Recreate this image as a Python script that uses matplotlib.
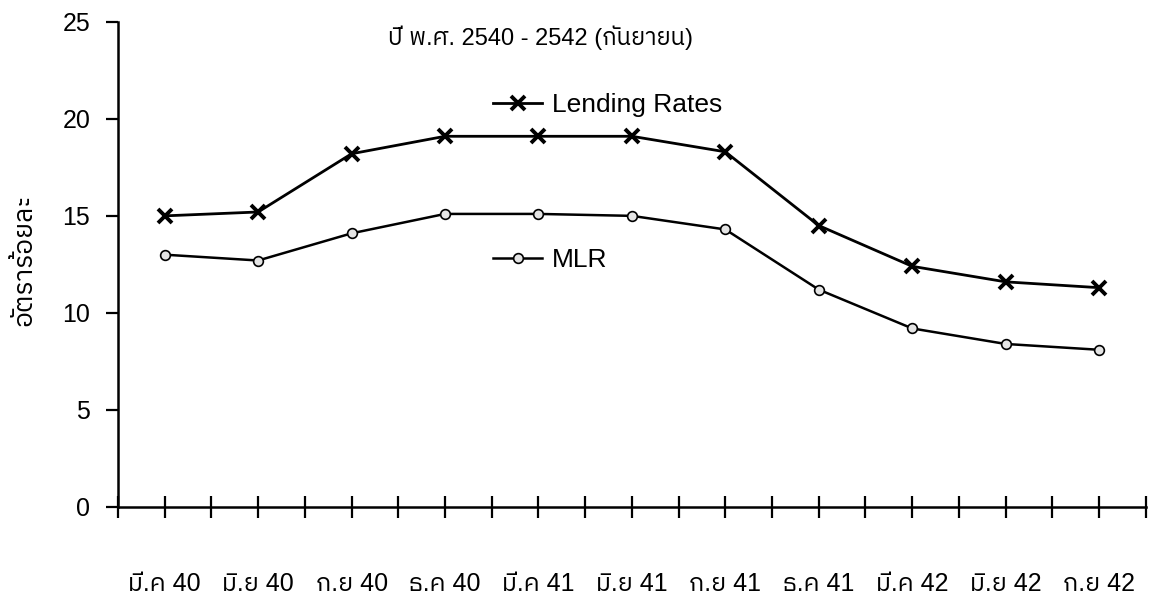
import matplotlib
matplotlib.use("Agg")
import matplotlib.pyplot as plt
from matplotlib import font_manager
from matplotlib.ft2font import FT2Font

# Data (percent)
periods = ['มี.ค 40', 'มิ.ย 40', 'ก.ย 40', 'ธ.ค 40', 'มี.ค 41', 'มิ.ย 41',
           'ก.ย 41', 'ธ.ค 41', 'มี.ค 42', 'มิ.ย 42', 'ก.ย 42']
lending_rates = [15.0, 15.2, 18.2, 19.1, 19.1, 19.1, 18.3, 14.5, 12.4, 11.6, 11.3]
mlr = [13.0, 12.7, 14.1, 15.1, 15.1, 15.0, 14.3, 11.2, 9.2, 8.4, 8.1]
y_ticks = [0, 5, 10, 15, 20, 25]


def find_thai_font():
    """Look for an installed font that has Thai glyphs."""
    found = []
    for f in font_manager.fontManager.ttflist:
        try:
            if 0x0E01 in FT2Font(f.fname).get_charmap():
                found.append(f.name)
        except Exception:
            pass
    for name in found:
        if 'Sans' in name:
            return name
    return found[0] if found else None


thai = find_thai_font()
families = ['Liberation Sans']
if thai:
    families.append(thai)
families.append('DejaVu Sans')
plt.rcParams['font.family'] = families

fig = plt.figure(figsize=(11.51, 6.05), dpi=100)
ax = fig.add_axes([0.1025, 0.162, 0.893, 0.802])

x = list(range(len(periods)))
ln1, = ax.plot(x, lending_rates, color='black', lw=2.0, marker='x',
               markersize=10, markeredgewidth=2.8)
ln2, = ax.plot(x, mlr, color='black', lw=1.8, marker='o', markersize=7,
               markerfacecolor='#e4e4e4', markeredgecolor='black', markeredgewidth=1.2)

ax.set_xlim(-0.5, 10.5)
ax.set_ylim(0, 25)
ax.set_yticks(y_ticks)
ax.set_xticks(x)
ax.set_xticklabels(periods)
ax.set_xticks([i + 0.5 for i in range(-1, len(periods))], minor=True)

for side in ['top', 'right']:
    ax.spines[side].set_visible(False)
ax.spines['left'].set_linewidth(1.8)
ax.spines['bottom'].set_linewidth(1.8)

ax.tick_params(axis='y', direction='out', length=9, width=1.6, labelsize=18, pad=11)
ax.tick_params(axis='x', which='both', direction='inout', length=16, width=1.6,
               labelsize=18, pad=39)

ax.text(0.411, 0.967, 'ปี พ.ศ. 2540 - 2542 (กันยายน)', transform=ax.transAxes,
        ha='center', va='center', fontsize=17)
fig.text(0.021, 0.57, 'อัตราร้อยละ', rotation=90, ha='center', va='center', fontsize=19)

# two separate legend entries placed inside the plot like the original
leg1 = ax.legend([ln1], ['Lending Rates'], loc='center left',
                 bbox_to_anchor=(0.365, 0.829), frameon=False, fontsize=19,
                 handlelength=1.85, handletextpad=0.38, borderpad=0, borderaxespad=0)
ax.add_artist(leg1)
ax.legend([ln2], ['MLR'], loc='center left', bbox_to_anchor=(0.365, 0.509),
          frameon=False, fontsize=19, handlelength=1.85, handletextpad=0.38,
          borderpad=0, borderaxespad=0)

fig.savefig('out.png', dpi=100)
